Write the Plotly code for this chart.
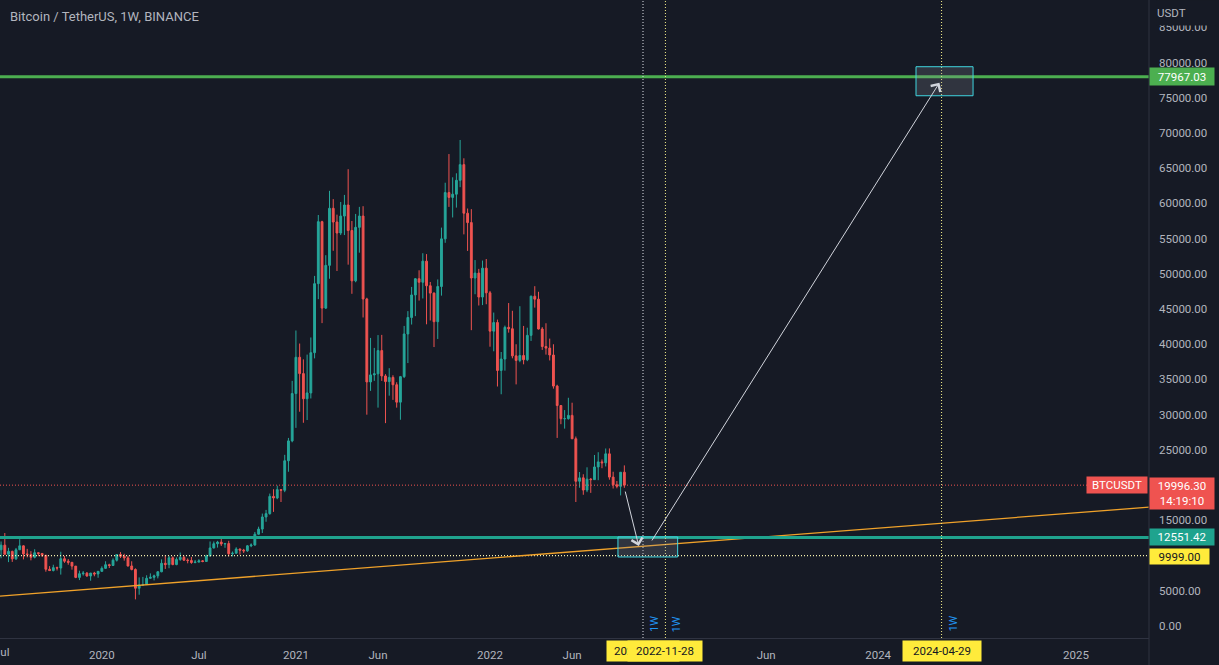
import pandas as pd
import plotly.graph_objects as go

# ---------------- data (weekly BTCUSDT candles) ----------------
first_week = "2019-06-24"

opens = [
    10855, 10818, 11475, 10180, 10590, 9530, 10820, 11380, 10230, 10140, 9760, 10400, 10300, 10040,
    8050, 7870, 8280, 8230, 9550, 9200, 9040, 8500, 6900, 7420, 7500, 7100, 7515,
    7390, 7760, 8185, 8700, 8590, 9340, 10150, 9900, 9670, 8520, 8030, 5360, 5820, 5880,
    6770, 6910, 7120, 7700, 8900, 8720, 9680, 8720, 9450, 9750, 9350, 9290, 9010, 9070,
    9250, 9160, 9930, 11080, 11680, 11910, 11650, 11700, 10260, 10330, 10930, 10770, 10670,
    11380, 11500, 13030, 13760, 15480, 15950, 18400, 18180, 19360, 19270, 23460, 26280,
    33000, 38150, 35830, 32260, 33090, 38800, 48600, 57400, 45130, 51200, 59300, 57350,
    55790, 58200, 59770, 56150, 49000, 56600, 58200, 46430, 34650, 35650, 35800, 39100,
    35500, 34700, 35290, 34250, 31780, 35400, 41460, 43800, 47000, 49300, 48800, 51800,
    48300, 47260, 43200, 48200, 54960, 61530, 60850, 61300, 63270, 65500, 58600, 57270,
    49400, 50100, 46700, 50800,
    47300, 41860, 43080, 36280, 37900, 42400, 42200, 38350, 37700, 38400, 37800, 41260,
    46820, 46400, 42160, 39680, 39450, 38470, 34060, 31300, 29430, 29440, 29900, 26580,
    20550, 21030, 19300, 20850, 20780, 22580, 23300, 23170, 24440, 21140, 20040, 19830,
    21830,
]
highs = [
    13970, 12000, 13200, 11100, 10690, 11080, 12325, 11450, 10950, 10630, 10900, 10450, 10350, 10060,
    8500, 8700, 8430, 10540, 9940, 9500, 9080, 8520, 7850, 7800, 7660, 7520, 7690,
    7630, 8465, 9190, 8840, 9600, 10160, 10500, 10250, 9970, 9190, 8180, 6900, 6970, 7200,
    7470, 7290, 7780, 9460, 10070, 9940, 9880, 9740, 10430, 9990, 9590, 9800, 9380, 9480,
    9350, 10120, 12000, 12000, 12085, 12490, 11800, 12090, 10580, 11180, 10990, 10950, 11500,
    11730, 13350, 14100, 15960, 16480, 18800, 19420, 19920, 19420, 24300, 26700, 34800,
    41950, 40100, 37850, 38530, 40960, 49700, 58350, 57530, 52640, 61780, 60600, 58400,
    60200, 61200, 64850, 57500, 58500, 59500, 59600, 46600, 40900, 39480, 41300, 41330,
    35750, 36600, 35600, 34600, 35500, 42600, 44700, 48140, 49380, 50500, 52920, 52800,
    48840, 47360, 49200, 56560, 62930, 67000, 63700, 64270, 69000, 66400, 59270, 59180,
    51950, 50700, 51880, 52100,
    47570, 44500, 43500, 38900, 42650, 45850, 44750, 40000, 45400, 42600, 42350, 46900,
    48240, 47450, 42430, 42980, 40800, 40000, 34250, 31300, 30650, 32400, 31700, 26900,
    21860, 21540, 22530, 21000, 24280, 24670, 23650, 25200, 25210, 21900, 20580, 21860,
    22800,
]
lows = [
    10300, 9614, 11000, 9070, 9100, 9380, 10800, 9460, 9740, 9320, 9600, 9900, 9800, 7710,
    7800, 7750, 7880, 7300, 8970, 8700, 8000, 6790, 6520, 7160, 7000, 6430, 7060,
    6850, 7690, 8090, 8230, 8560, 9150, 9650, 9280, 8450, 7900, 3780, 4440, 5690, 5860,
    6730, 6470, 6760, 7630, 8100, 8200, 8630, 8630, 9260, 9230, 8900, 8830, 8900, 9050,
    9050, 9130, 9920, 11000, 11130, 11360, 11100, 9870, 9880, 10260, 10140, 10370, 10530,
    11190, 11400, 12950, 13200, 14800, 15800, 16200, 18000, 17600, 19000, 21900, 26080,
    28130, 30420, 28850, 29240, 32300, 37990, 46400, 43000, 45000, 49300, 53270, 50400,
    55500, 55500, 51300, 47160, 48800, 53000, 43800, 30000, 33380, 34800, 31000, 34800,
    28800, 32700, 32100, 31000, 29280, 35200, 37330, 42800, 43990, 46200, 46500, 42830,
    43370, 39600, 40750, 46900, 54400, 59500, 58000, 59400, 62300, 55600, 53250, 42000,
    47100, 45500, 45560, 45680,
    39650, 39000, 34000, 32900, 36250, 41650, 38000, 34300, 37450, 37150, 37600, 40470,
    45200, 42100, 39200, 38530, 37700, 33700, 26700, 28650, 28020, 29300, 26560, 17600,
    19630, 18630, 19000, 18900, 20760, 20700, 22400, 22650, 20770, 19520, 19550, 18540,
    19620,
]
closes = [
    10818, 11475, 10180, 10590, 9530, 10820, 11380, 10230, 10140, 9760, 10400, 10300, 10040, 8050,
    7870, 8280, 8230, 9550, 9200, 9040, 8500, 6900, 7420, 7500, 7100, 7515, 7390,
    7760, 8185, 8700, 8590, 9340, 10150, 9900, 9670, 8520, 8030, 5360, 5820, 5880, 6770,
    6910, 7120, 7700, 8900, 8720, 9680, 8720, 9450, 9750, 9350, 9290, 9010, 9070, 9250,
    9160, 9930, 11080, 11680, 11910, 11650, 11700, 10260, 10330, 10930, 10770, 10670, 11380,
    11500, 13030, 13760, 15480, 15950, 18400, 18180, 19360, 19270, 23460, 26280, 33000,
    38150, 35830, 32260, 33090, 38800, 48600, 57400, 45130, 51200, 59300, 57350, 55790,
    58200, 59770, 56150, 49000, 56600, 58200, 46430, 34650, 35650, 35800, 39100, 35500,
    34700, 35290, 34250, 31780, 35400, 41460, 43800, 47000, 49300, 48800, 51800, 48300,
    47260, 43200, 48200, 54960, 61530, 60850, 61300, 63270, 65500, 58600, 57270, 49400,
    50100, 46700, 50800, 47300,
    41860, 43080, 36280, 37900, 42400, 42200, 38350, 37700, 38400, 37800, 41260, 46820,
    46400, 42160, 39680, 39450, 38470, 34060, 31300, 29430, 29440, 29900, 26580, 20550,
    21030, 19300, 20850, 20780, 22580, 23300, 23170, 24440, 21140, 20040, 19830, 21830,
    19996.30,
]

# drawn levels / drawings
resistance_level = 77967.03
support_level = 12551.42
floor_level = 9999.00
last_price = 19996.30
countdown = "14:19:10"
marker_dates = ["2022-10-17", "2022-11-28", "2024-04-29"]
trend_points = [("2019-06-29", 4250), ("2025-05-23", 16870)]
box_low = dict(x0="2022-08-31", x1="2022-12-21", y0=9800, y1=12640)
box_high = dict(x0="2024-03-12", x1="2024-06-27", y0=75280, y1=79400)
arrow_down = (("2022-09-13", 19300), ("2022-10-09", 11360))
arrow_up = (("2022-11-01", 11930), ("2024-04-25", 77130))

x_range = ["2019-06-29", "2025-05-23"]
y_range = [-1704, 88872]
x_tick_vals = ["2020-01-06", "2020-07-06", "2021-01-04", "2021-06-07",
               "2022-01-03", "2022-06-06", "2023-06-05", "2024-01-01", "2025-01-06"]
x_tick_text = ["2020", "Jul", "2021", "Jun", "2022", "Jun", "Jun", "2024", "2025"]
edge_tick = ("2019-07-01", "Jul")   # first label, cut by the left edge
y_tick_vals = list(range(0, 85001, 5000))
y_tick_text = [f"{v:.2f}" for v in y_tick_vals]

# ---------------- style ----------------
BG = "#161a25"
FONT = "Roboto"
TXT = "#b2b5be"
UP = "#26a69a"
DOWN = "#ef5350"
TEAL = "#1fa38e"
GREEN = "#4caf50"
YEL = "#ffeb3b"
DOT = "1px,2px"
W, H = 1219, 665
ML, MR, MT, MB = 0, 70, 0, 27
PW, PH = W - ML - MR, H - MT - MB

def px_x(px):
    return px / PW

def px_y(py):
    return 1 - py / PH

dates = pd.date_range(first_week, periods=len(closes), freq="7D")

fig = go.Figure()
fig.add_trace(go.Candlestick(
    x=dates, open=opens, high=highs, low=lows, close=closes,
    increasing=dict(line=dict(color=UP, width=1), fillcolor=UP),
    decreasing=dict(line=dict(color=DOWN, width=1), fillcolor=DOWN),
    whiskerwidth=0, hoverinfo="skip", showlegend=False,
))

shapes = []
# horizontal levels
shapes.append(dict(type="line", xref="paper", yref="y", x0=0, x1=1, y0=resistance_level,
                   y1=resistance_level, line=dict(color=GREEN, width=3)))
shapes.append(dict(type="line", xref="paper", yref="y", x0=0, x1=1, y0=last_price,
                   y1=last_price, line=dict(color=DOWN, width=1, dash=DOT)))
shapes.append(dict(type="line", xref="paper", yref="y", x0=0, x1=1, y0=floor_level,
                   y1=floor_level, line=dict(color="#f7f3b0", width=1.2, dash=DOT)))
# trend line
shapes.append(dict(type="line", xref="x", yref="y", x0=trend_points[0][0], y0=trend_points[0][1],
                   x1=trend_points[1][0], y1=trend_points[1][1],
                   line=dict(color="#f0a22a", width=1.3)))
shapes.append(dict(type="line", xref="paper", yref="y", x0=0, x1=1, y0=support_level,
                   y1=support_level, line=dict(color=TEAL, width=3)))
# vertical markers
shapes.append(dict(type="line", xref="x", yref="paper", x0=marker_dates[0], x1=marker_dates[0],
                   y0=0, y1=1, line=dict(color="#e0e3eb", width=1, dash=DOT)))
for d in marker_dates[1:]:
    shapes.append(dict(type="line", xref="x", yref="paper", x0=d, x1=d, y0=0, y1=1,
                       line=dict(color="#f7f08a", width=1, dash=DOT)))
# boxes
for b in (box_low, box_high):
    shapes.append(dict(type="rect", xref="x", yref="y", **b,
                       line=dict(color="#3fd6e0", width=1),
                       fillcolor="rgba(140,145,160,0.22)"))
# axis separators
shapes.append(dict(type="line", xref="paper", yref="paper", x0=1, x1=1, y0=-MB / PH, y1=1,
                   line=dict(color="#2f3341", width=1)))

ann = []
ann.append(dict(text="Bitcoin / TetherUS, 1W, BINANCE", xref="paper", yref="paper",
                x=px_x(8), y=px_y(16), xanchor="left", yanchor="middle", showarrow=False,
                font=dict(family=FONT, size=13, color=TXT)))
ann.append(dict(text="USDT", xref="paper", yref="paper", x=px_x(1156), y=1, xanchor="left",
                yanchor="top", width=58, height=24, align="left", bgcolor=BG, borderpad=0,
                showarrow=False, font=dict(family=FONT, size=11.5, color=TXT)))
ann.append(dict(text=edge_tick[1], xref="x", yref="paper", x=edge_tick[0], y=px_y(652),
                xanchor="center", yanchor="middle", showarrow=False,
                font=dict(family=FONT, size=11.5, color=TXT)))

def price_box(text, y, bg, fg="#ffffff", width=62, height=15, **kw):
    d = dict(text=text, xref="paper", yref="y", x=1, y=y, xanchor="left", yanchor="middle",
             width=width, height=height, bgcolor=bg, borderpad=1, showarrow=False, align="center",
             font=dict(family=FONT, size=11.5, color=fg))
    d.update(kw)
    return d

ann.append(price_box(f"{resistance_level:.2f}", resistance_level, GREEN))
ann.append(price_box(f"{last_price:.2f}<br>{countdown}", last_price, DOWN, height=29,
                     yanchor="top", yshift=8))
ann.append(dict(text="BTCUSDT", xref="paper", yref="y", x=px_x(1148), y=last_price,
                xanchor="right", yanchor="middle", width=58, height=14, bgcolor=DOWN,
                borderpad=1, showarrow=False, font=dict(family=FONT, size=11.5, color="#ffffff")))
ann.append(price_box(f"{support_level:.2f}", support_level, TEAL, height=14, yshift=1))
ann.append(price_box(f"{floor_level:.2f}", floor_level, YEL, fg="#131722", width=57,
                     height=13, yshift=-1))

# date labels on the time axis
for d, wdt in ((marker_dates[0], 70), (marker_dates[1], 72), (marker_dates[2], 76)):
    ann.append(dict(text=d, xref="x", yref="paper", x=d, y=px_y(651), xanchor="center",
                    yanchor="middle", width=wdt, height=18, bgcolor=YEL, borderpad=1,
                    showarrow=False, font=dict(family=FONT, size=11.5, color="#131722")))
for d in marker_dates:
    ann.append(dict(text="1W", xref="x", yref="paper", x=d, y=px_y(621), xshift=11,
                    yshift=-13, textangle=-90, showarrow=False,
                    font=dict(family=FONT, size=11, color="#2196f3")))

# arrows
for (tail, head) in (arrow_down, arrow_up):
    ann.append(dict(x=head[0], y=head[1], ax=tail[0], ay=tail[1], xref="x", yref="y",
                    axref="x", ayref="y", showarrow=True, arrowhead=4, arrowsize=2.2,
                    arrowwidth=1, arrowcolor="#d1d4dc", text="", standoff=0))

fig.update_layout(
    width=W, height=H, margin=dict(l=ML, r=MR, t=MT, b=MB),
    paper_bgcolor=BG, plot_bgcolor=BG, shapes=shapes, annotations=ann,
    font=dict(family=FONT, color=TXT, size=11.5), showlegend=False, hovermode=False,
    xaxis=dict(type="date", range=x_range, rangeslider=dict(visible=False), showgrid=False,
               zeroline=False, tickvals=x_tick_vals, ticktext=x_tick_text, ticks="",
               showline=True, linecolor="#2f3341", linewidth=1,
               tickfont=dict(family=FONT, size=11.5, color=TXT), ticklabelstandoff=6),
    yaxis=dict(side="right", range=y_range, showgrid=False, zeroline=False,
               tickvals=y_tick_vals, ticktext=y_tick_text, ticks="",
               tickfont=dict(family=FONT, size=11.5, color=TXT), ticklabelstandoff=9),
)

fig.write_html("out.html", config={"displayModeBar": False},
               post_script="document.body.style.margin='0';")
